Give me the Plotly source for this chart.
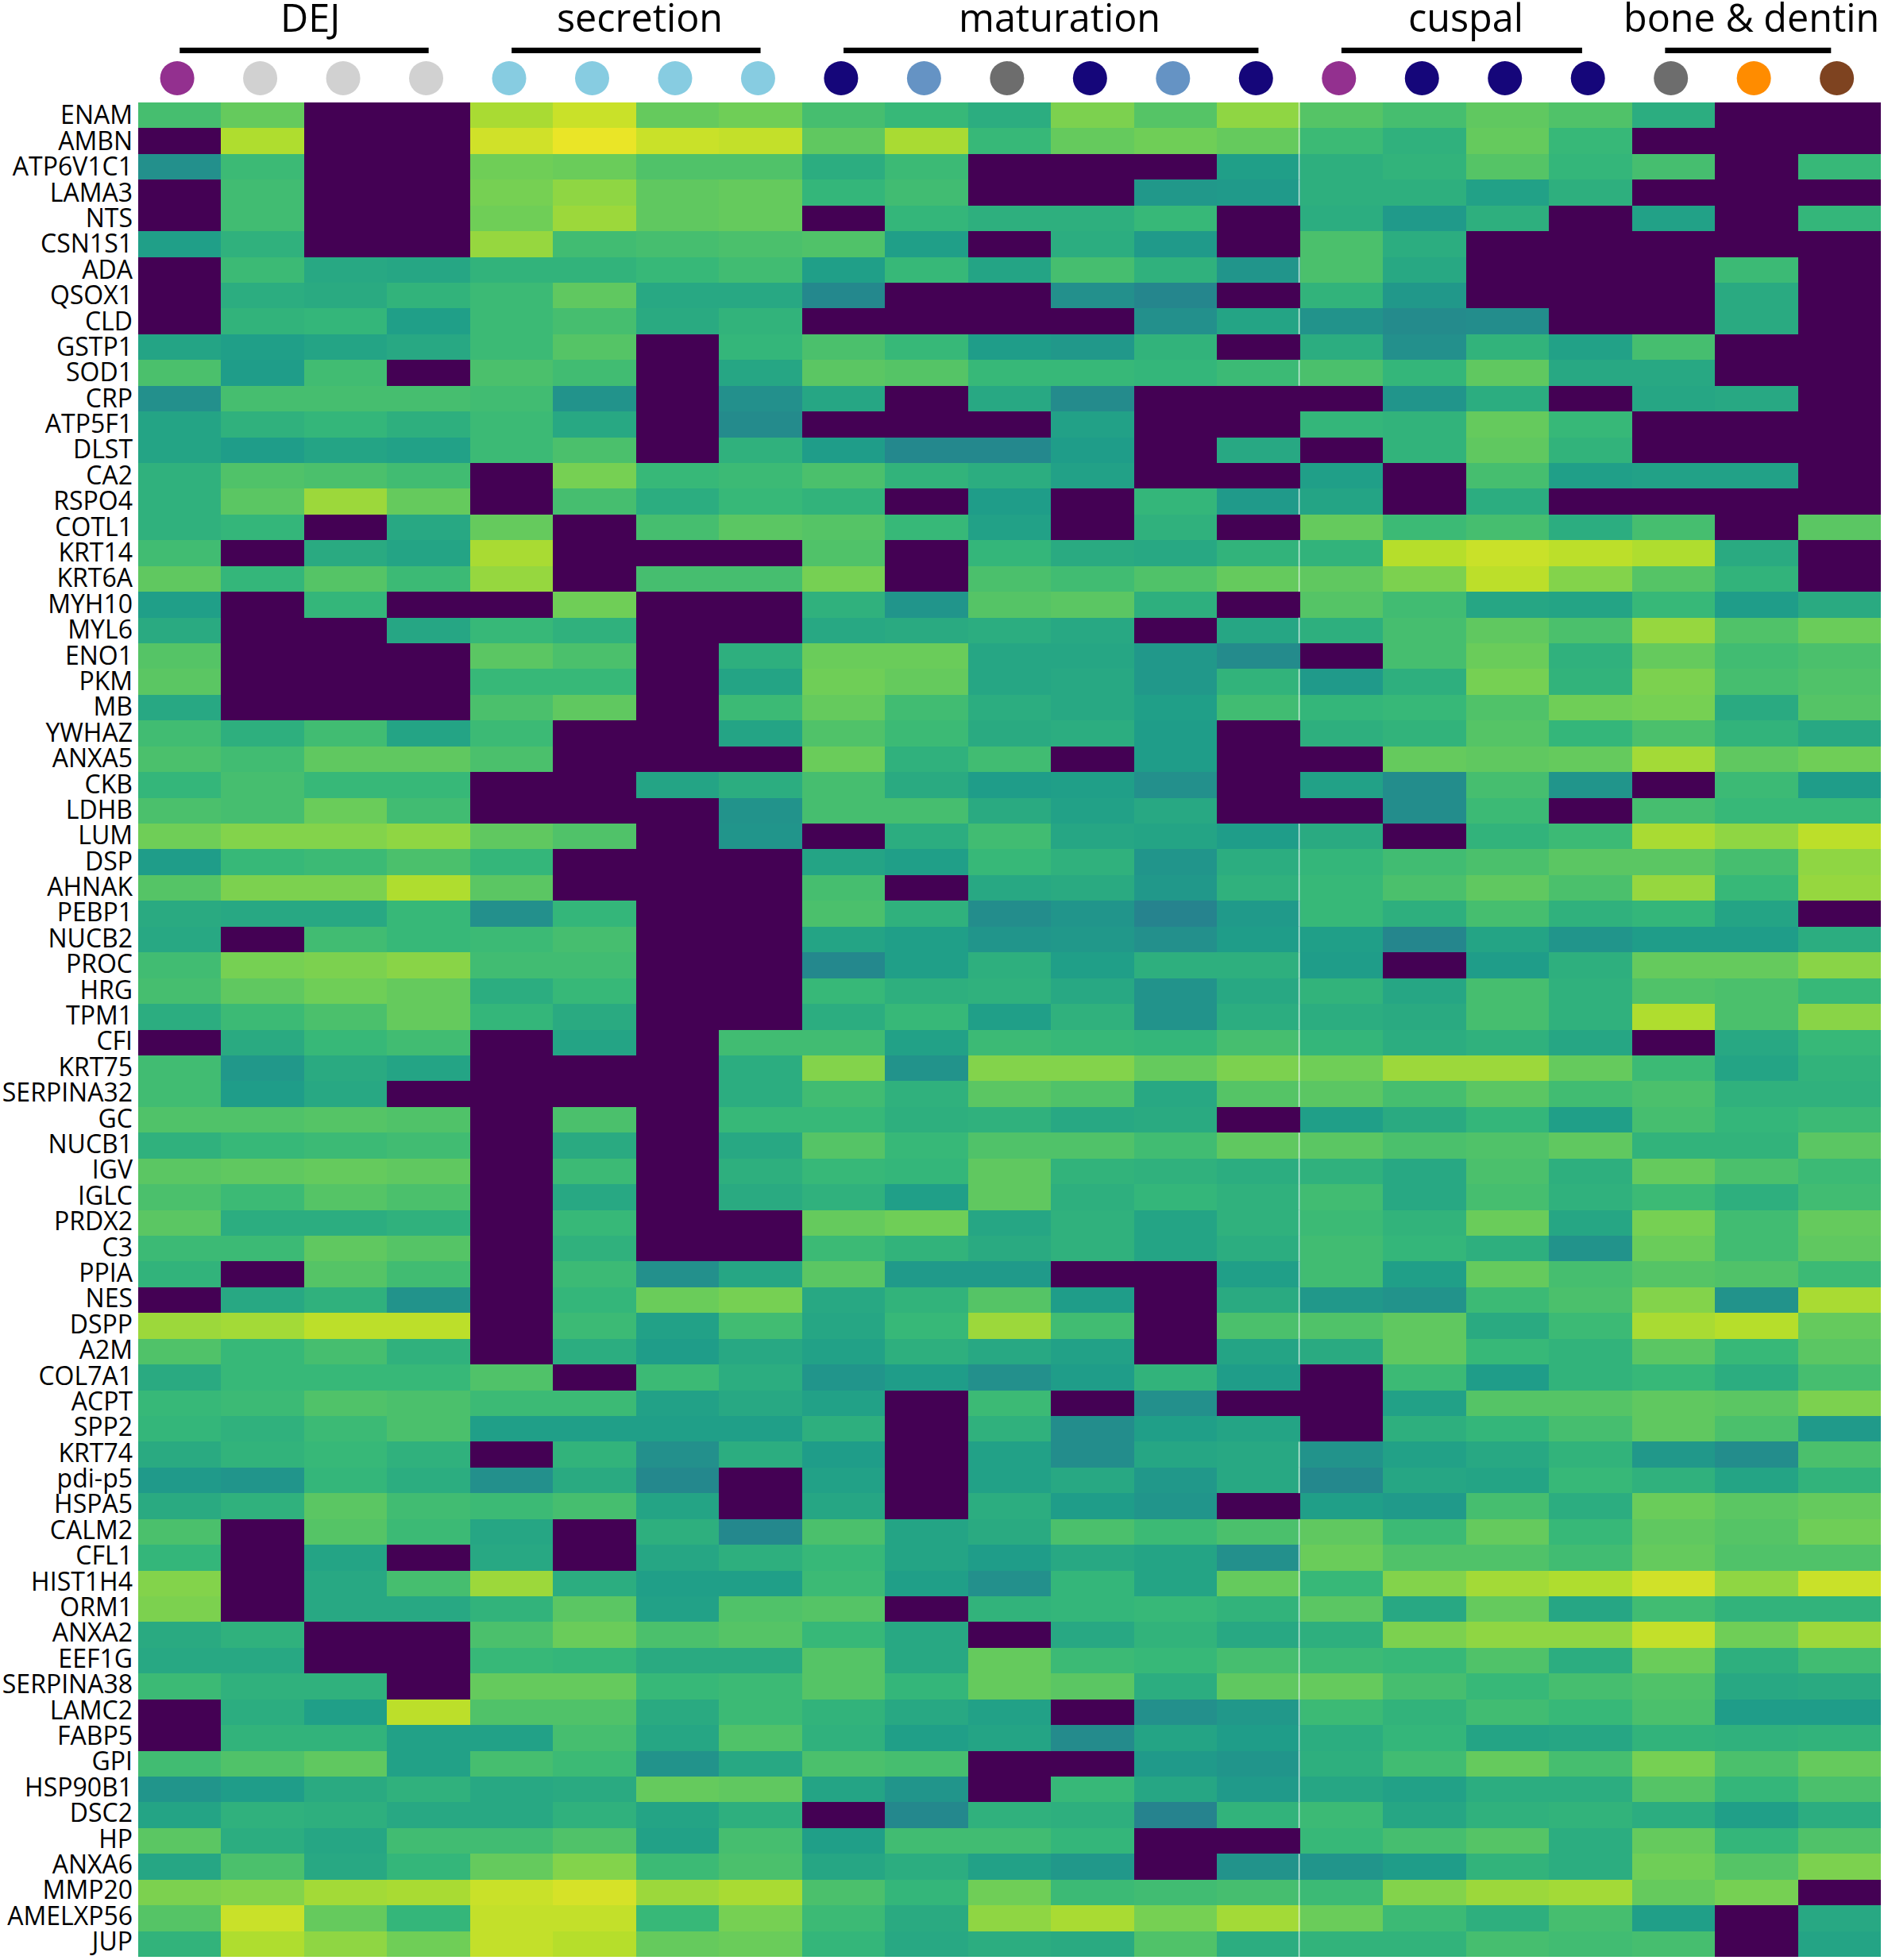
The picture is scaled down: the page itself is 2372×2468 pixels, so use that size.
import plotly.graph_objects as go

# --- categories -----------------------------------------------------------
genes = ["ENAM","AMBN","ATP6V1C1","LAMA3","NTS","CSN1S1","ADA","QSOX1","CLD","GSTP1","SOD1","CRP",
         "ATP5F1","DLST","CA2","RSPO4","COTL1","KRT14","KRT6A","MYH10","MYL6","ENO1","PKM","MB",
         "YWHAZ","ANXA5","CKB","LDHB","LUM","DSP","AHNAK","PEBP1","NUCB2","PROC","HRG","TPM1",
         "CFI","KRT75","SERPINA32","GC","NUCB1","IGV","IGLC","PRDX2","C3","PPIA","NES","DSPP",
         "A2M","COL7A1","ACPT","SPP2","KRT74","pdi-p5","HSPA5","CALM2","CFL1","HIST1H4","ORM1",
         "ANXA2","EEF1G","SERPINA38","LAMC2","FABP5","GPI","HSP90B1","DSC2","HP","ANXA6","MMP20",
         "AMELXP56","JUP"]
group_names = ["DEJ", "secretion", "maturation", "cuspal", "bone & dentin"]
group_label_px = [390, 805, 1334, 1845, 2205]
group_bar_start = [0, 4, 8, 14, 17.9]
group_bar_end = [3, 7, 13, 16.9, 19.9]
sample_colors = ["#93308f","#d1d1d1","#d1d1d1","#d1d1d1","#87cce1","#87cce1","#87cce1","#87cce1",
                 "#15067a","#6593c4","#6d6d6d","#15067a","#6593c4","#15067a","#93308f","#15067a",
                 "#15067a","#15067a","#6d6d6d","#ff8c00","#7e4320"]

# --- values per gene (colour position, 0 = not detected) ---------------------
v_ENAM = [70,76,0,0,87,92,76,78,70,67,62,80,73,83,73,70,75,72,62,0,0]
v_AMBN = [0,88,0,0,93,97,92,91,75,87,67,76,78,76,68,64,76,67,0,0,0]
v_ATP6V1C1 = [50,68,0,0,78,77,72,72,62,68,0,0,0,56,63,65,73,66,70,0,67]
v_LAMA3 = [0,69,0,0,79,83,75,76,66,69,0,0,53,54,63,63,57,63,0,0,0]
v_NTS = [0,69,0,0,78,85,75,76,0,66,63,63,67,0,62,54,63,0,57,0,66]
v_CSN1S1 = [56,64,0,0,84,69,70,71,72,56,0,62,54,0,71,62,0,0,0,0,0]
v_ADA = [0,68,60,59,65,65,67,69,56,67,58,70,64,52,71,60,0,0,0,68,0]
v_QSOX1 = [0,62,61,65,68,75,60,60,47,0,0,50,46,0,65,53,0,0,0,61,0]
v_CLD = [0,65,66,56,68,70,61,65,0,0,0,0,50,58,51,48,49,0,0,61,0]
v_GSTP1 = [58,56,58,60,68,73,0,66,71,67,55,53,65,0,62,50,65,57,70,0,0]
v_SOD1 = [71,55,69,0,71,69,0,59,74,73,67,67,66,68,71,66,75,60,60,0,0]
v_CRP = [50,70,70,70,69,51,0,50,59,0,60,48,0,0,0,52,62,0,59,60,0]
v_ATP5F1 = [58,64,66,63,68,60,0,48,0,0,0,57,0,0,66,65,76,67,0,0,0]
v_DLST = [58,55,58,57,68,71,0,64,55,47,47,55,0,60,0,65,75,65,0,0,0]
v_CA2 = [64,72,71,69,0,79,67,68,71,65,62,57,0,0,56,0,70,56,57,57,0]
v_RSPO4 = [64,74,85,76,0,70,62,67,65,0,55,0,66,54,58,0,62,0,0,0,0]
v_COTL1 = [64,66,0,60,76,0,70,74,73,67,57,0,64,0,76,68,70,62,70,0,74]
v_KRT14 = [69,0,61,58,87,0,0,0,72,0,66,61,60,65,65,89,92,90,88,61,0]
v_KRT6A = [75,66,73,68,84,0,70,70,79,0,71,69,72,76,75,80,90,81,73,65,0]
v_MYH10 = [56,0,66,0,0,78,0,0,64,52,73,74,63,0,73,69,59,58,67,55,61]
v_MYL6 = [61,0,0,59,67,64,0,0,60,61,62,60,0,59,63,70,75,71,84,72,77]
v_ENO1 = [73,0,0,0,74,71,0,63,77,77,59,59,53,48,0,70,77,64,76,69,71]
v_PKM = [74,0,0,0,67,67,0,58,78,76,59,60,53,65,54,63,79,65,80,70,72]
v_MB = [60,0,0,0,71,75,0,68,76,69,62,60,56,69,66,67,72,78,79,61,73]
v_YWHAZ = [69,63,69,58,68,0,0,58,72,68,61,62,55,0,63,65,73,66,71,65,60]
v_ANXA5 = [71,69,75,75,71,0,0,0,77,64,69,0,55,0,0,76,75,76,86,75,78]
v_CKB = [66,70,67,67,0,0,58,62,70,61,55,56,50,0,57,49,70,52,0,68,55]
v_LDHB = [71,70,77,69,0,0,0,51,70,70,61,57,60,0,0,49,68,0,70,67,67]
v_LUM = [78,81,81,83,75,72,0,52,0,62,69,59,58,55,61,0,65,68,87,83,90]
v_DSP = [55,67,68,71,66,0,0,0,58,56,67,64,52,62,66,69,71,74,74,70,83]
v_AHNAK = [73,80,80,88,74,0,0,0,70,0,60,61,53,64,67,71,75,71,84,67,84]
v_PEBP1 = [61,60,60,67,50,66,0,0,71,64,49,52,45,54,67,63,70,64,66,58,0]
v_NUCB2 = [60,0,69,67,68,70,0,0,58,56,52,53,50,55,56,46,58,52,55,55,62]
v_PROC = [69,79,80,82,69,69,0,0,47,56,63,56,63,63,55,0,55,63,76,76,82]
v_HRG = [70,75,78,76,62,67,0,0,67,63,64,60,51,60,65,59,70,64,72,71,67]
v_TPM1 = [62,68,71,76,66,61,0,0,62,67,56,64,51,62,62,61,70,64,88,71,82]
v_CFI = [0,61,67,69,0,58,0,69,69,57,68,67,66,70,66,62,64,59,0,60,67]
v_KRT75 = [69,53,61,58,0,0,0,62,81,51,81,81,76,80,78,85,85,76,68,58,65]
v_SERPINA32 = [69,55,60,0,0,0,0,62,69,64,74,72,60,73,74,70,74,69,71,64,64]
v_GC = [72,72,73,72,0,71,0,67,67,63,64,60,61,0,56,61,66,56,70,66,68]
v_NUCB1 = [64,67,68,69,0,61,0,60,73,67,72,72,69,75,74,71,72,75,65,65,74]
v_IGV = [74,75,76,75,0,68,0,63,67,66,75,65,64,62,64,60,71,63,76,71,68]
v_IGLC = [71,68,73,71,0,60,0,61,64,56,75,63,66,64,69,60,70,64,68,63,69]
v_PRDX2 = [74,62,62,64,0,67,0,0,76,78,59,64,58,64,68,65,77,59,79,69,76]
v_C3 = [68,68,75,73,0,64,0,0,68,65,61,64,58,62,69,66,63,51,77,69,75]
v_PPIA = [65,0,73,69,0,68,50,59,74,54,54,0,0,56,69,56,76,70,73,72,68]
v_NES = [0,60,64,51,0,66,77,79,60,65,73,55,0,61,53,51,68,71,81,51,87]
v_DSPP = [85,86,90,90,0,68,57,69,59,67,85,69,0,71,72,75,61,68,87,89,76]
v_A2M = [72,67,70,64,0,62,55,60,57,63,60,57,0,58,61,75,67,65,74,67,74]
v_COL7A1 = [61,67,67,67,72,0,68,62,52,55,50,55,65,55,0,68,55,65,67,62,70]
v_ACPT = [67,68,72,71,68,68,57,60,57,0,68,0,50,0,0,57,73,73,75,74,80]
v_SPP2 = [66,64,68,71,56,56,56,56,63,0,64,49,56,58,0,63,66,70,75,71,54]
v_KRT74 = [61,65,67,64,0,65,50,62,55,0,57,49,59,60,51,57,60,65,53,49,71]
v_PDIP5 = [54,52,66,62,50,61,47,0,57,0,57,60,53,60,47,59,58,67,64,58,65]
v_HSPA5 = [61,64,74,69,68,70,58,0,59,0,62,55,52,0,56,54,70,62,77,74,76]
v_CALM2 = [71,0,73,68,59,0,63,47,71,58,61,71,68,71,75,68,76,67,75,73,78]
v_CFL1 = [66,0,58,0,60,0,59,63,67,58,55,60,58,50,77,72,72,69,76,72,72]
v_HIST1H4 = [81,0,60,70,85,62,56,56,68,56,50,66,58,76,67,81,86,88,93,83,92]
v_ORM1 = [80,0,60,60,65,74,57,72,73,0,65,66,67,65,74,60,76,59,69,65,65]
v_ANXA2 = [61,64,0,0,71,77,71,73,67,60,0,60,65,60,63,80,83,83,91,78,85]
v_EEF1G = [60,60,0,0,67,66,61,61,73,60,76,68,67,70,68,67,72,62,77,63,69]
v_SERPINA38 = [68,64,64,0,76,76,67,68,73,66,76,74,62,75,76,70,67,70,72,60,61]
v_LAMC2 = [0,62,56,90,72,72,61,68,65,60,57,0,50,53,68,65,69,67,71,55,55]
v_FABP5 = [0,65,65,57,57,70,59,72,64,56,58,48,58,55,62,66,58,59,65,64,65]
v_GPI = [69,72,75,57,70,68,51,60,71,70,0,0,54,52,63,69,76,70,79,71,76]
v_HSP90B1 = [52,55,61,64,60,61,76,75,58,52,0,67,59,54,59,57,62,62,73,66,71]
v_DSC2 = [58,64,63,60,60,64,58,63,0,47,64,63,45,65,68,59,64,65,62,56,62]
v_HP = [74,62,59,69,69,72,57,70,56,69,69,66,0,0,67,70,73,62,76,66,72]
v_ANXA6 = [59,71,60,66,76,81,68,71,59,62,57,53,0,51,52,55,65,62,78,73,80]
v_MMP20 = [80,81,86,87,92,94,85,87,71,66,78,68,69,70,68,81,85,86,76,79,0]
v_AMELXP56 = [73,92,76,66,91,91,67,79,68,61,83,87,79,86,77,68,63,70,56,0,60]
v_JUP = [65,88,83,78,91,89,76,77,66,60,62,61,72,62,65,65,70,69,70,0,58]

values = [v_ENAM,v_AMBN,v_ATP6V1C1,v_LAMA3,v_NTS,v_CSN1S1,v_ADA,v_QSOX1,v_CLD,v_GSTP1,v_SOD1,v_CRP,
          v_ATP5F1,v_DLST,v_CA2,v_RSPO4,v_COTL1,v_KRT14,v_KRT6A,v_MYH10,v_MYL6,v_ENO1,v_PKM,v_MB,
          v_YWHAZ,v_ANXA5,v_CKB,v_LDHB,v_LUM,v_DSP,v_AHNAK,v_PEBP1,v_NUCB2,v_PROC,v_HRG,v_TPM1,
          v_CFI,v_KRT75,v_SERPINA32,v_GC,v_NUCB1,v_IGV,v_IGLC,v_PRDX2,v_C3,v_PPIA,v_NES,v_DSPP,
          v_A2M,v_COL7A1,v_ACPT,v_SPP2,v_KRT74,v_PDIP5,v_HSPA5,v_CALM2,v_CFL1,v_HIST1H4,v_ORM1,
          v_ANXA2,v_EEF1G,v_SERPINA38,v_LAMC2,v_FABP5,v_GPI,v_HSP90B1,v_DSC2,v_HP,v_ANXA6,v_MMP20,
          v_AMELXP56,v_JUP]

# --- page geometry (pixels) ---------------------------------------------------
W, H = 2372, 2468
LEFT, RIGHT, TOP, BOTTOM = 174, 2368, 129, 2464
FONT = "Open Sans"
N = len(genes)

fig = go.Figure()
fig.add_trace(go.Heatmap(z=values, x=list(range(21)), y=list(range(N)),
                         colorscale="Viridis", zmin=0, zmax=100, showscale=False,
                         xgap=0, ygap=0, hoverongaps=False))

# thin pale separator, visible only between detected cells
sep_x, sep_y = [], []
for r, row in enumerate(values):
    if row[13] > 0 and row[14] > 0:
        sep_x += [13.49, 13.49, None]
        sep_y += [r - 0.5, r + 0.5, None]
fig.add_trace(go.Scatter(x=sep_x, y=sep_y, mode="lines", hoverinfo="skip", showlegend=False,
                         line=dict(color="rgba(225,245,235,0.85)", width=1.5)))

# sample dots, in a pixel-scaled header axis above the heatmap
fig.add_trace(go.Scatter(x=[i - 0.03 for i in range(21)], y=[98.5] * 21, yaxis="y2", mode="markers",
                         showlegend=False, hoverinfo="skip",
                         marker=dict(size=43, color=sample_colors, line=dict(width=0))))

# group bars
for a, b in zip(group_bar_start, group_bar_end):
    fig.add_trace(go.Scatter(x=[a, b], y=[63.5, 63.5], yaxis="y2", mode="lines", showlegend=False,
                             hoverinfo="skip", line=dict(color="black", width=7)))

for name, px in zip(group_names, group_label_px):
    fig.add_annotation(text=name, xref="paper", yref="paper", x=px / W, y=1 - 56 / H, xanchor="center",
                       yanchor="bottom", showarrow=False,
                       font=dict(family=FONT, size=48.5, color="black"))

fig.update_layout(
    width=W, height=H, margin=dict(l=0, r=0, t=0, b=0, pad=0, autoexpand=False),
    paper_bgcolor="white", plot_bgcolor="white",
    showlegend=False, font=dict(family=FONT, color="black"),
    xaxis=dict(domain=[LEFT / W, RIGHT / W], range=[-0.5, 20.5], showgrid=False, zeroline=False,
               showticklabels=False, ticks="", showline=False, automargin=False),
    yaxis=dict(domain=[1 - BOTTOM / H, 1 - TOP / H], range=[N - 0.5, -0.5], showgrid=False,
               zeroline=False, tickmode="array",
               tickvals=[i - 0.09 * i / (N - 1) for i in range(N)], ticktext=genes,
               tickfont=dict(family=FONT, size=32, color="black"), ticks="", ticklabelstandoff=6,
               showline=False, automargin=False),
    yaxis2=dict(domain=[1 - TOP / H, 1], range=[TOP, 0], anchor="x", showgrid=False, zeroline=False,
                showticklabels=False, ticks="", showline=False, automargin=False),
)

fig.write_html("out.html", config={"displayModeBar": False}, post_script="document.body.style.margin='0';")
